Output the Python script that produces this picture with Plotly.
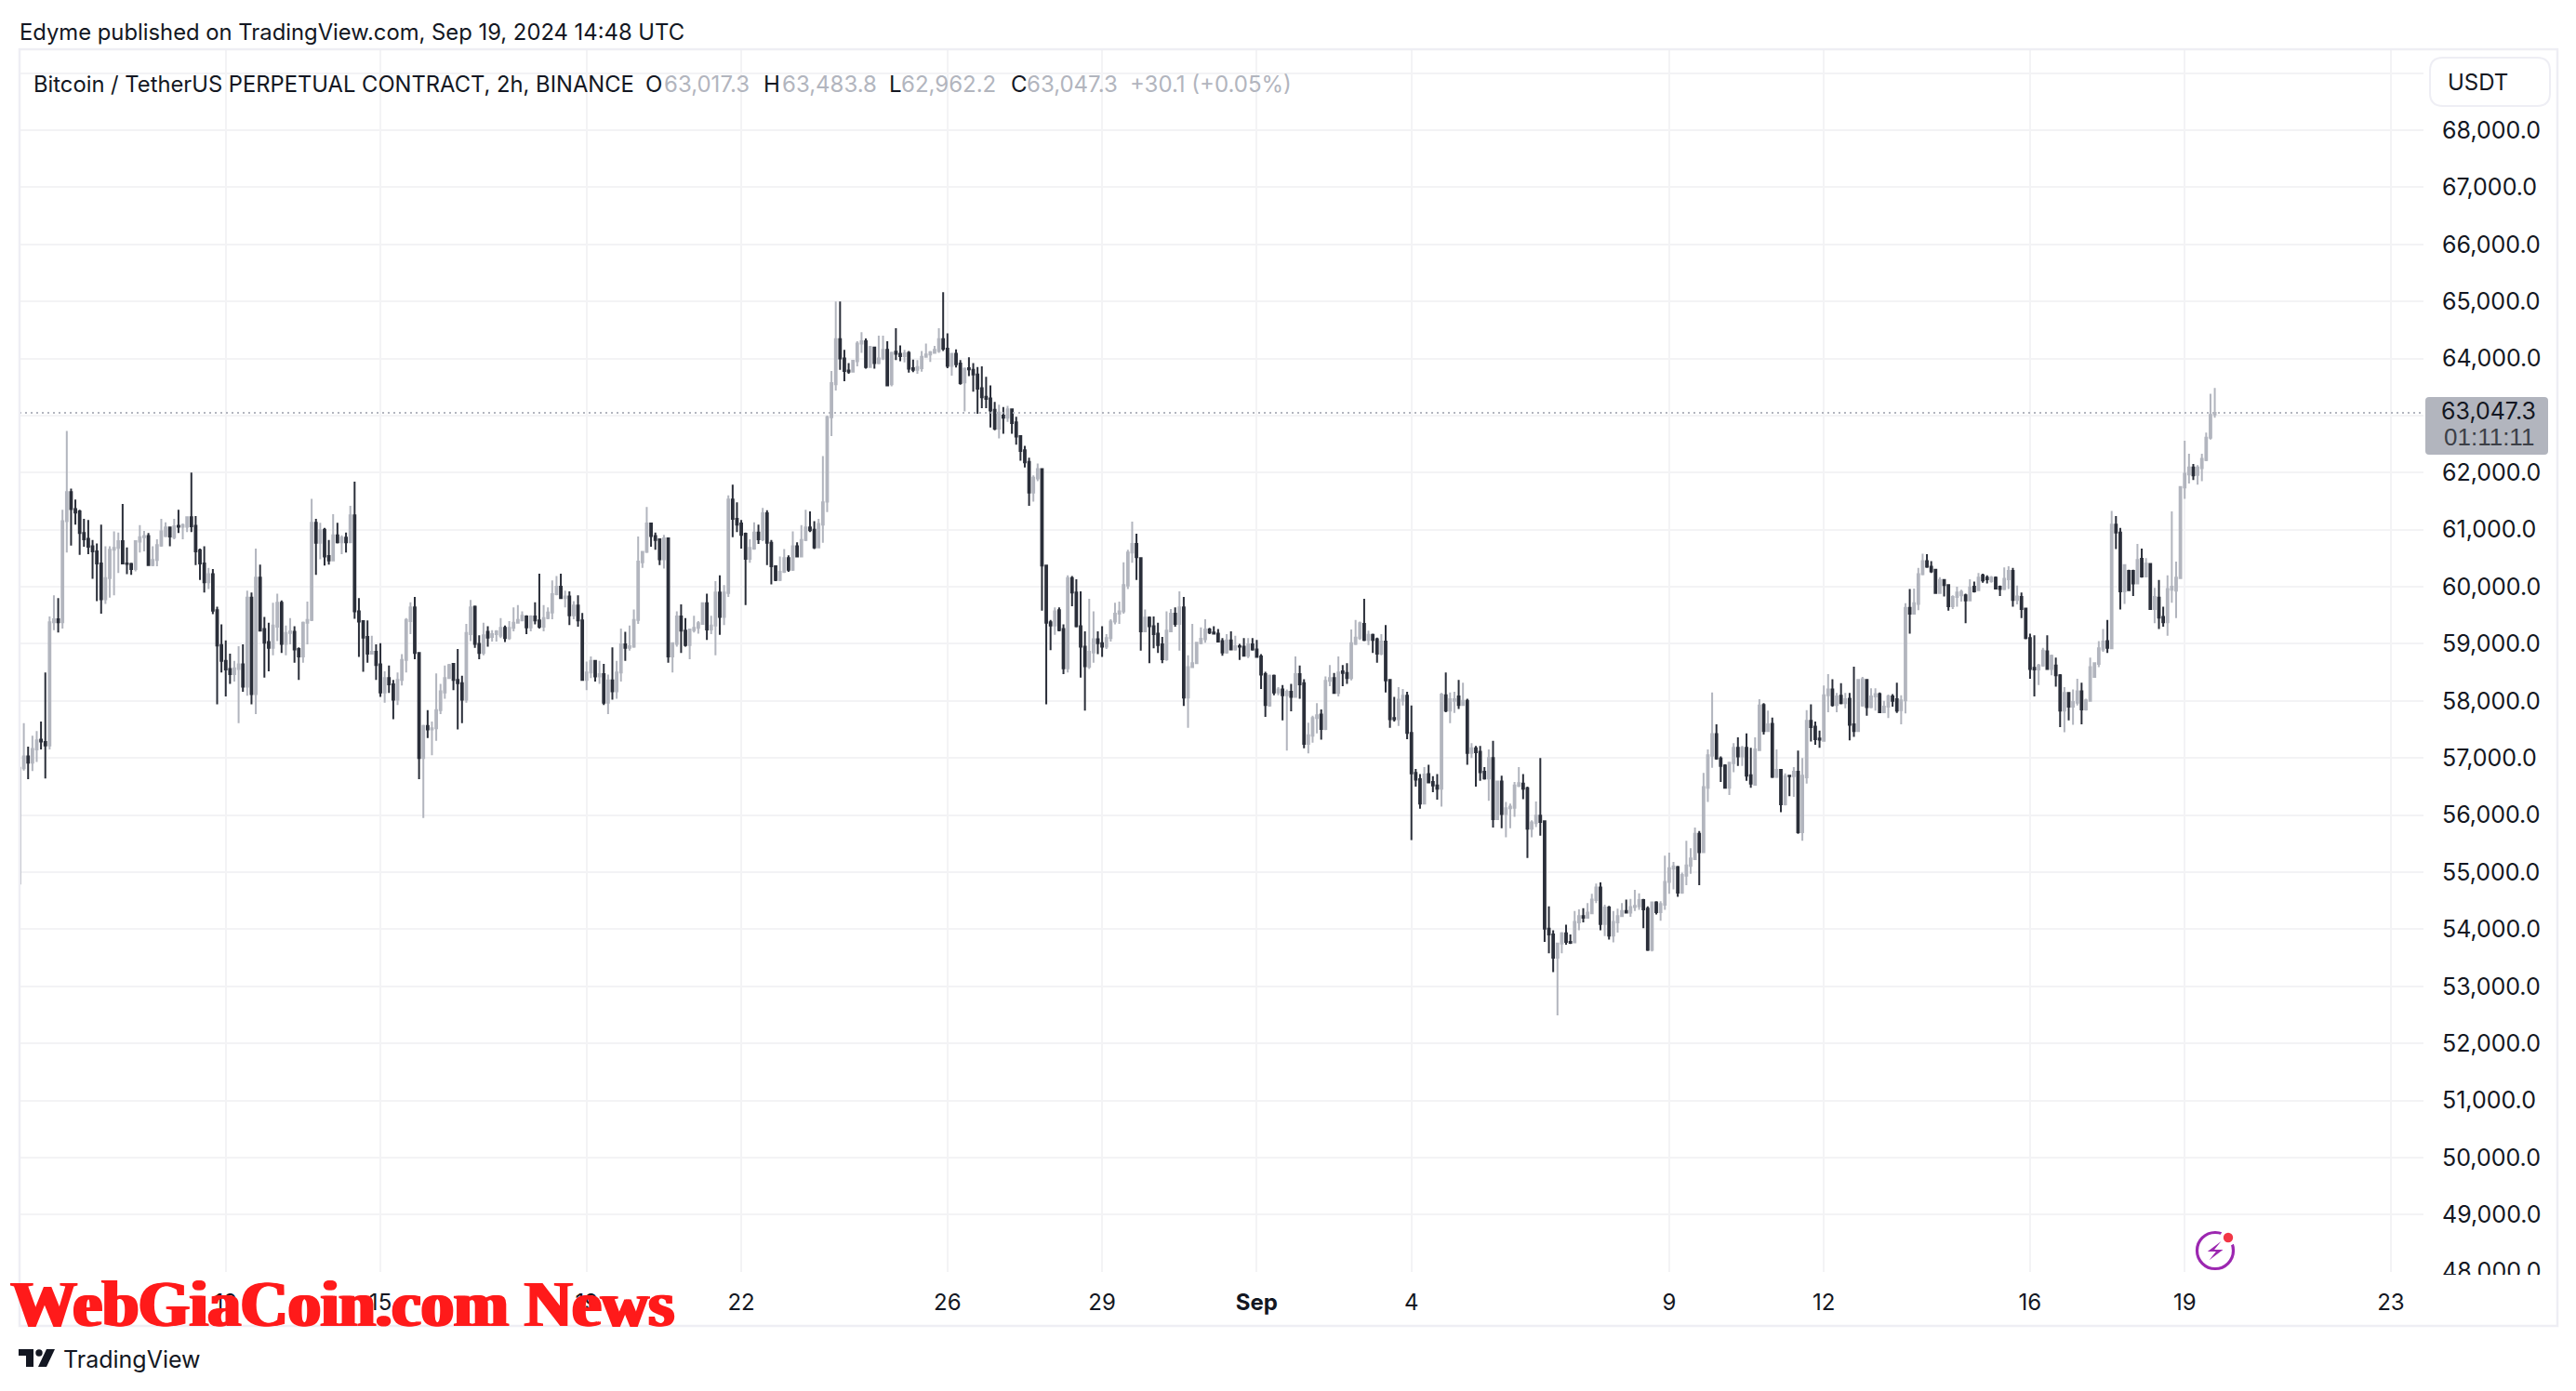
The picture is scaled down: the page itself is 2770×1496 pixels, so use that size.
import pandas as pd
import plotly.graph_objects as go

start_time = "2024-08-08 00:00"
opens = [
54800,56820,57030,56920,57150,57320,57280,57220,59380,59430,
59380,61150,61660,61360,61320,60940,60840,60710,60620,60410,
59780,60150,60650,60680,60800,60410,60400,60310,60790,60870,
60890,60380,60470,60720,60890,61040,60870,61070,61050,61050,
61220,61070,60640,60410,60080,60220,59590,58980,58700,58560,
58470,58560,58640,58250,59810,58120,60160,59260,59030,58930,
59300,59720,59000,59190,59210,58910,58780,59370,59420,61120,
60770,61000,60540,60460,60900,60780,60860,60780,61250,59570,
59400,59120,58830,58860,58640,58150,58400,58290,58020,58370,
58720,59400,59640,58840,57000,57560,57500,57520,57840,58150,
58400,58650,58370,58310,58020,59170,59650,59000,58840,59210,
59120,59170,59140,59280,59100,59280,59370,59410,59480,59290,
59480,59410,59300,59450,59550,59870,60000,59800,59830,59500,
59670,59410,58370,58500,58700,58430,58470,57970,58360,58170,
58500,58990,58930,58950,59420,60430,60610,61110,60890,60830,
60480,60850,58780,59000,59480,59230,58980,59240,59280,59350,
59710,59250,59320,59900,59470,59890,61530,61190,61110,60930,
60490,60670,60950,60830,61290,60770,60360,60120,60260,60500,
60300,60710,60530,60820,61040,61000,60690,61090,61490,62970,
63550,64340,64000,63790,63770,63950,64260,64300,63850,64190,
63920,64000,64150,63550,64120,64080,64040,64100,63830,63800,
63830,64030,64070,64100,64130,64340,64170,63870,64080,63910,
63580,63830,63800,63720,63480,63330,63300,63100,62770,63000,
62960,63110,62880,62640,62390,62190,61650,61900,62060,60370,
59380,59320,59590,59260,58570,60150,59900,59310,58950,58600,
58850,59080,59010,58950,59100,59390,59530,59570,60020,60600,
60750,60500,59220,59460,59310,59180,58990,58730,59220,59530,
59350,59640,58060,58590,58660,59010,59080,59250,59200,59180,
59050,58850,59060,58900,58960,58950,58790,58990,58900,58780,
58470,57920,58440,58150,58200,58100,58160,58070,58470,58310,
57250,57390,57700,57760,57510,58350,58400,58140,58520,58490,
58400,59000,59100,59350,59070,59160,59080,58830,59040,58370,
57700,57680,58000,58090,57440,56740,56630,56200,56720,56580,
56520,56460,58100,57830,58000,58080,57930,58000,57090,57170,
57110,56760,56640,57000,55930,56590,56020,56120,56130,56510,
56550,56470,55760,55860,55990,55890,54010,53910,53500,53750,
53930,53780,53770,54120,54230,54200,54280,54510,54730,54090,
54380,53890,54120,54230,54320,54290,54390,54400,54510,54360,
53640,54470,54300,54430,54830,55060,55090,54640,54940,55110,
55230,55670,55350,56480,57040,57420,56990,56870,56480,56910,
57180,57030,57180,56700,56530,57140,57930,57470,57600,56670,
56790,56190,56690,56680,56760,55700,56660,57650,57550,57340,
57300,58100,58200,57930,58090,57960,58040,57590,57470,57920,
58370,57890,58080,58120,57800,57900,58080,58030,57840,58010,
59630,59530,59700,60220,60450,60350,60300,59890,60120,60030,
59660,59820,59850,59850,59760,60000,59940,60200,60160,60100,
60160,60000,59960,60130,60280,59770,59820,59620,59100,58580,
58550,58620,58870,58560,58620,58450,57830,58140,57900,57970,
58170,57850,58000,58420,58650,58900,59050,58920,61090,60950,
59920,60280,60280,60060,60490,60180,60400,59610,59810,59470,
59380,59950,59930,60150,61740,61970,62090,61960,62080,62220,
62610,63017.3]
closes = [
56830,57030,56920,57160,57310,57290,57220,59380,59430,59380,
61150,61660,61360,61300,60940,60830,60700,60620,60410,59780,
60150,60650,60680,60800,60410,60400,60310,60800,60870,60890,
60380,60470,60730,60970,61040,60880,61060,61050,61080,61220,
61060,60620,60410,60080,60220,59580,58970,58700,58550,58470,
58570,58640,58250,59810,58120,60160,59230,59020,58930,59320,
59720,59000,59190,59220,58900,58780,59370,59420,61120,60770,
60990,60530,60460,60900,60780,60860,60780,61250,59570,59390,
59110,58830,58860,58630,58150,58400,58290,58020,58370,58720,
59420,59640,58840,57000,57560,57500,57520,57840,58170,58400,
58630,58370,58310,58020,59190,59640,59000,58840,59150,59110,
59170,59220,59280,59100,59280,59370,59420,59490,59290,59480,
59410,59300,59450,59550,59870,60000,59800,59830,59500,59670,
59410,58370,58500,58700,58430,58470,57970,58360,58170,58500,
58990,58930,58960,59420,60440,60610,61110,60890,60820,60480,
60850,58780,59010,59480,59230,58980,59250,59280,59360,59710,
59250,59320,59900,59470,59900,61530,61190,61090,60910,60490,
60680,60950,60830,61290,60770,60360,60120,60260,60500,60300,
60710,60530,60820,61040,60990,60690,61100,61480,62970,63570,
64340,64000,63780,63770,63960,64260,64300,63850,64200,63920,
64000,64150,63530,64100,64080,64040,64090,63820,63800,63850,
64030,64070,64110,64150,64340,64170,63870,64080,63900,63570,
63820,63810,63720,63470,63320,63290,63090,62770,63050,62960,
63110,62870,62630,62380,62180,61650,61910,62060,60370,59370,
59320,59570,59240,58570,60150,59900,59310,58950,58610,58860,
59080,59010,58950,59100,59390,59530,59570,60030,60600,60750,
60520,59220,59460,59310,59170,58980,58730,59230,59530,59350,
59640,58060,58590,58660,59020,59090,59250,59200,59180,59040,
58850,59060,58900,58960,58950,58790,58990,58900,58770,58460,
57930,58440,58150,58200,58100,58160,58070,58470,58290,57250,
57400,57700,57750,57510,58350,58400,58140,58500,58490,58400,
59010,59110,59360,59070,59160,59070,58830,59040,58360,57680,
57680,58020,58090,57440,56730,56620,56200,56710,56570,56520,
56460,58110,57830,58030,58030,57930,58000,57090,57170,57100,
56750,56640,57000,55930,56590,56020,56120,56150,56520,56560,
56460,55760,55870,55990,55880,54010,53910,53500,53750,53930,
53780,53760,54130,54230,54200,54290,54520,54730,54090,54380,
53890,54130,54230,54320,54290,54390,54410,54510,54350,53640,
54470,54300,54440,54830,55070,55100,54640,54950,55120,55240,
55670,55350,56490,57050,57420,56990,56860,56480,56920,57180,
57030,57180,56690,56550,57150,57920,57470,57590,56670,56790,
56190,56680,56680,56760,55700,56690,57650,57540,57330,57320,
58100,58200,57930,58080,57960,58030,57580,57470,58370,58380,
57890,58080,58120,57800,57900,58080,58000,57830,58010,59630,
59530,59710,60220,60450,60350,60270,59890,60120,60030,59660,
59820,59900,59910,59760,59990,59920,60160,60110,60130,60160,
59970,59960,60140,60280,59770,59830,59610,59100,58560,58550,
58620,58880,58560,58790,58450,57830,58140,57900,57980,58170,
57850,58010,58590,58660,58920,59040,58930,61090,60950,59920,
60380,59940,60060,60470,60180,60410,59610,59820,59460,59380,
59960,60000,60160,61750,61980,62090,61950,62090,62240,62610,
63010,63047.3]
highs = [
57685,57610,57200,57390,57470,57640,58500,59480,59850,59800,
61350,62730,61720,61530,61350,61190,61170,60820,60760,61090,
60710,60710,60970,60950,61450,60690,60420,60810,61080,60980,
60940,60710,60830,61190,61130,61040,61190,61350,61110,61230,
62000,61240,60670,60710,60330,60310,59650,59340,59060,58830,
58700,58960,58990,59930,59900,60670,60390,59470,59370,59720,
59880,59760,59320,59450,59310,58940,59390,59740,61540,61190,
61120,61030,60820,61270,61120,60900,60950,61420,61840,59800,
59410,59410,59140,58990,59010,58520,58620,58370,58500,58820,
59450,59730,59820,58840,57580,57840,57640,58480,58300,58620,
58650,58650,58910,58440,59350,59770,59670,59150,59370,59310,
59240,59240,59450,59320,59400,59640,59680,59570,59500,59500,
59730,60230,59680,59640,60110,60190,60230,59930,59920,59750,
59850,59540,58690,58780,58720,58700,58650,58460,58940,58700,
59270,59210,59320,59600,60880,60630,61400,61120,60950,60840,
60910,60860,59020,59570,59690,59450,59260,59490,59400,59730,
59880,59490,60100,60200,60030,61600,61790,61480,61170,60950,
60830,61130,61090,61380,61340,60820,60370,60530,60660,60550,
60970,60780,61080,61350,61320,61150,61190,62290,63000,63780,
65000,65000,64150,63920,63970,64300,64460,64350,64220,64200,
64400,64400,64300,64120,64530,64230,64150,64130,63980,63970,
64130,64260,64130,64220,64530,65160,64440,64100,64160,63970,
63840,64020,63920,63850,63860,63680,63530,63240,63190,63150,
63170,63120,62980,62650,62470,62260,61950,62160,62060,60370,
59420,59640,59640,59340,60200,60190,60130,59920,59220,59790,
59570,59220,59310,59170,59430,59720,59740,60430,60650,61140,
60930,60510,59600,59480,59480,59370,59120,59570,59610,59640,
59920,59820,58800,59350,59020,59290,59430,59280,59310,59260,
59100,59170,59220,59140,59000,59100,59100,59100,59070,58820,
58510,58460,58460,58240,58280,58200,58300,58780,58620,58380,
57620,57740,57960,57850,58430,58630,58490,58780,58630,58660,
59250,59420,59390,59790,59230,59180,59110,59170,59330,58370,
58070,58240,58210,58160,57920,56810,56720,56840,56880,56680,
56720,58140,58500,58150,58160,58370,58320,58040,57260,57210,
57210,56840,57150,57300,56600,56690,56230,56200,56580,56840,
56720,56500,55910,56240,57000,55910,54400,53980,53760,53950,
54080,53910,54320,54350,54370,54460,54620,54800,54820,54430,
54410,54320,54360,54460,54520,54530,54690,54630,54530,54400,
54480,54490,54490,55290,55340,55180,55110,54990,55550,55420,
55780,55720,56740,57150,58150,57590,57030,56890,56930,57260,
57360,57210,57430,57180,57360,58030,57960,57830,57710,57150,
56790,56730,56700,56840,57130,57000,57840,57940,57640,57480,
58270,58470,58380,58140,58310,58140,58140,58600,58380,58420,
58380,58220,58220,58150,58000,58110,58120,58320,58100,59710,
59960,59970,60330,60580,60570,60450,60310,60170,60130,60030,
59850,60000,59950,59880,60130,60090,60240,60230,60200,60190,
60180,60020,60340,60360,60330,60020,59900,59630,59180,59150,
58650,58930,59150,58810,58760,58470,58240,58140,58200,58390,
58320,58040,58760,58670,59050,59260,59420,61330,61240,61030,
60390,60300,60300,60750,60670,60500,60410,59980,60120,59650,
60200,61320,60440,61760,62560,62330,62150,62130,62330,62700,
63380,63483.8]
lows = [
54650,56780,56630,56770,56930,57150,56640,57150,59240,59200,
59270,60600,60720,61090,60560,60700,60570,60140,59750,59530,
59700,59810,59850,60240,60400,60220,60210,60270,60600,60620,
60380,60360,60360,60700,60870,60710,60830,60940,60830,60960,
60960,60380,60120,59900,59960,59520,57940,58500,58080,58300,
58340,57610,58160,58090,57940,57770,59220,58410,58520,58800,
59050,58840,58800,58990,58670,58370,58670,58990,59400,60210,
60480,60370,60390,60450,60760,60570,60600,60780,59440,58770,
58510,58670,58820,58370,58070,57970,58140,57680,57930,58270,
58500,59170,58730,56630,55950,57350,57050,57300,57770,58040,
58400,58190,57500,57610,57970,59050,58930,58730,58800,58950,
59040,59040,59100,59030,59070,59220,59370,59400,59170,59220,
59340,59270,59220,59430,59430,59850,59790,59640,59330,59430,
59300,58350,58190,58400,58340,58300,57930,57770,58020,58040,
58340,58700,58880,58930,59350,60330,60590,60700,60650,60380,
60320,58670,58500,58950,58840,58950,58730,59200,59180,59350,
59070,59170,58800,59160,59330,59820,60870,60960,60670,59680,
60420,60650,60750,60800,60380,60040,60100,60100,60240,60260,
60280,60520,60520,60800,60960,60660,60680,60770,61310,62640,
63440,63800,63600,63730,63770,63860,64100,63820,63850,63820,
63900,63970,63510,63510,63970,63950,63930,63750,63760,63730,
63770,64020,63940,64090,64100,64130,63830,63700,63840,63540,
63070,63690,63420,63030,63130,63130,62790,62740,62600,62680,
62890,62680,62490,62210,62090,61420,61490,61850,59580,57940,
58890,59160,59220,58470,58500,59660,59290,58410,57830,58560,
58670,58820,58770,58910,59040,59340,59350,59530,59960,60420,
60120,58880,59210,58660,58920,58840,58660,58700,59210,59300,
58880,57910,57530,58590,58660,58990,59020,59170,59170,59030,
58790,58830,58890,58880,58720,58780,58750,58880,58760,58210,
57720,57900,58100,58100,57660,57130,57820,58070,58040,57170,
57080,57270,57430,57320,57490,58260,58130,58080,58260,58300,
58360,58980,59070,59050,58980,58840,58670,58800,58150,57530,
57640,57560,57920,57330,55560,56500,56110,56200,56560,56400,
56270,56150,57800,57610,57790,57860,57920,56880,57000,56500,
56600,56620,56250,55780,55920,55770,55610,55770,55970,56490,
56280,55250,55610,55790,55640,53780,53580,53250,52490,53580,
53730,53740,53770,53980,54120,54190,54280,54460,53980,53880,
53820,53770,53940,54230,54290,54220,54320,54340,54020,53620,
53610,54260,54150,54340,54620,54700,54570,54620,54770,54970,
55230,54770,55340,56230,56830,56970,56580,56480,56350,56750,
56860,56860,56600,56480,56530,57130,57410,57470,56650,56650,
56050,56170,56330,56320,55670,55550,56550,57290,57230,57180,
57290,57800,57900,57800,57940,57870,57310,57370,57470,57900,
57740,57870,57830,57800,57790,57700,57900,57790,57590,57780,
59180,59530,59590,60200,60330,60240,59880,59880,59830,59580,
59610,59650,59740,59360,59750,59900,59930,60070,60060,60070,
59960,59840,59940,59960,59650,59690,59450,59080,58390,58080,
58280,58600,58550,58450,58250,57540,57450,57660,57580,57920,
57590,57830,57990,58420,58590,58860,58840,58910,60660,59600,
59700,59940,59840,60060,60160,60170,59610,59360,59260,59300,
59140,59720,59450,60150,61540,61810,61870,61790,61850,62200,
62580,62962.2]

price_ticks = [p * 1000 for p in range(48, 70)]
price_tick_labels = [f"{p:,.1f}" if p < 69000 else "" for p in price_ticks]
date_ticks = ["2024-08-12", "2024-08-15", "2024-08-19", "2024-08-22", "2024-08-26", "2024-08-29",
              "2024-09-01", "2024-09-04", "2024-09-09", "2024-09-12", "2024-09-16", "2024-09-19", "2024-09-23"]
date_tick_labels = ["12", "15", "19", "22", "26", "29", "<b>Sep</b>", "4", "9", "12", "16", "19", "23"]
last_price = 63047.3
legend_parts = [("O", "63,017.3"), ("H", "63,483.8"), ("L", "62,962.2"), ("C", "63,047.3")]

W, H = 2770, 1496
L, R, T, B = 21, 2606, 53, 1368
UP, DOWN = "#b2b5be", "#2a2e39"
INK, GRID, FRAME = "#131722", "#f3f3f5", "#eeeef4"
FONT = "Inter"


def px(x):
    return (x - L) / (R - L)


def py(y):
    return 1 - (y - T) / (B - T)


def poly(points, fill, line_color=None, width=0):
    d = "M " + " L ".join(f"{px(x):.5f},{py(y):.5f}" for x, y in points) + " Z"
    return dict(type="path", xref="paper", yref="paper", path=d, fillcolor=fill,
                line=dict(color=line_color or fill, width=width), layer="above")


def circle(cx, cy, r, fill="rgba(0,0,0,0)", line_color=None, width=0):
    return dict(type="circle", xref="paper", yref="paper", x0=px(cx - r), x1=px(cx + r),
                y0=py(cy + r), y1=py(cy - r), fillcolor=fill,
                line=dict(color=line_color or "rgba(0,0,0,0)", width=width), layer="above")


def rect(x0, y0, x1, y1, fill="rgba(0,0,0,0)", line_color=None, width=0):
    return dict(type="rect", xref="paper", yref="paper", x0=px(x0), x1=px(x1), y0=py(y1), y1=py(y0),
                fillcolor=fill, line=dict(color=line_color or "rgba(0,0,0,0)", width=width), layer="above")


def rounded(x0, y0, x1, y1, r, fill, line_color, width):
    pts = [(x0 + r, y0), (x1 - r, y0), ("Q", x1, y0, x1, y0 + r), (x1, y1 - r), ("Q", x1, y1, x1 - r, y1),
           (x0 + r, y1), ("Q", x0, y1, x0, y1 - r), (x0, y0 + r), ("Q", x0, y0, x0 + r, y0)]
    d = f"M {px(pts[0][0]):.5f},{py(pts[0][1]):.5f}"
    for p in pts[1:]:
        if p[0] == "Q":
            d += f" Q {px(p[1]):.5f},{py(p[2]):.5f} {px(p[3]):.5f},{py(p[4]):.5f}"
        else:
            d += f" L {px(p[0]):.5f},{py(p[1]):.5f}"
    return dict(type="path", xref="paper", yref="paper", path=d + " Z", fillcolor=fill,
                line=dict(color=line_color, width=width), layer="above")


def label(x, y, text, size=24, color=INK, xanchor="left", family=FONT, **kw):
    return dict(xref="paper", yref="paper", x=px(x), y=py(y), text=text, showarrow=False,
                xanchor=xanchor, yanchor="middle", borderpad=0,
                font=dict(family=family, size=size, color=color, **kw))


times = pd.date_range(start_time, periods=len(opens), freq="2h")

fig = go.Figure(go.Candlestick(
    x=times, open=opens, high=highs, low=lows, close=closes,
    increasing=dict(line=dict(color=UP, width=2), fillcolor=UP),
    decreasing=dict(line=dict(color=DOWN, width=2), fillcolor=DOWN),
    whiskerwidth=0, showlegend=False, hoverinfo="skip",
))

shapes = [
    dict(type="line", xref="paper", yref="y", x0=0, x1=px(2603), y0=last_price, y1=last_price,
         line=dict(color=UP, width=2, dash="2px,4px"), layer="above"),
    rect(2607, 1371, 2745, 1395, fill="white"),
    rect(21, 53, 2750, 1426, line_color=FRAME, width=2.5),
    rounded(2613, 62, 2742, 114, 14, "white", FRAME, 2),
    rounded(2608, 427, 2740, 489, 4, UP, UP, 0),
    circle(2382, 1345, 19.5, line_color="#9c27b0", width=3.2),
    circle(2396, 1331, 9, fill="white"),
    circle(2396, 1331, 5.2, fill="#f23645"),
    poly([(2388.4, 1335), (2373.8, 1346), (2382.9, 1346), (2375.6, 1355.3), (2390.5, 1344), (2381.1, 1344)], "#9c27b0"),
    poly([(20, 1451), (36, 1451), (36, 1470), (28, 1470), (28, 1458), (20, 1458)], INK),
    circle(42, 1455, 3.7, fill=INK),
    poly([(50, 1451), (59, 1451), (50, 1470), (41, 1470)], INK),
]

annotations = [
    label(19.5, 35, "Edyme published on TradingView.com, Sep 19, 2024 14:48 UTC", size=23.8),
    label(35, 90, "Bitcoin / TetherUS PERPETUAL CONTRACT, 2h, BINANCE", size=23.75),
    label(693, 90, legend_parts[0][0], size=24),
    label(713, 90, legend_parts[0][1], size=24, color=UP),
    label(820, 90, legend_parts[1][0], size=24),
    label(840, 90, legend_parts[1][1], size=24, color=UP),
    label(955, 90, legend_parts[2][0], size=24),
    label(968, 90, legend_parts[2][1], size=24, color=UP),
    label(1086, 90, legend_parts[3][0], size=24),
    label(1103, 90, legend_parts[3][1], size=24, color=UP),
    label(1214, 90, "+30.1 (+0.05%)", size=24, color=UP),
    label(2631, 88.5, "USDT", size=24),
    label(2676, 442, "63,047.3", size=25, xanchor="center"),
    label(2676, 470, "01:11:11", size=26, color="#3c3f47", xanchor="center", family="Liberation Sans"),
    label(67, 1461.5, "TradingView", size=25),
    label(11, 1402, "WebGiaCoin.com News", size=70.5, color="#ff1a1a", family="Liberation Serif",
          weight="bold", shadow="2px 0 0 #ff1a1a, -2px 0 0 #ff1a1a"),
]

fig.update_layout(
    width=W, height=H, autosize=False,
    margin=dict(l=L, r=W - R, t=T, b=H - B, autoexpand=False),
    paper_bgcolor="white", plot_bgcolor="white",
    boxgap=0.45,
    font=dict(family=FONT, size=24, color=INK),
    shapes=shapes, annotations=annotations, showlegend=False,
    xaxis=dict(
        type="date", range=["2024-08-08 00:00", "2024-09-23 15:10"],
        rangeslider=dict(visible=False),
        tickmode="array", tickvals=date_ticks, ticktext=date_tick_labels,
        showgrid=True, gridcolor=GRID, gridwidth=2, zeroline=False, showline=False,
        ticks="outside", ticklen=11, tickcolor="rgba(0,0,0,0)",
        tickfont=dict(family=FONT, size=24, color=INK),
    ),
    yaxis=dict(
        side="right", range=[47995, 69417],
        tickmode="array", tickvals=price_ticks, ticktext=price_tick_labels,
        showgrid=True, gridcolor=GRID, gridwidth=2, zeroline=False, showline=False,
        ticks="outside", ticklen=14, tickcolor="rgba(0,0,0,0)",
        tickfont=dict(family=FONT, size=25, color=INK),
    ),
)

fig.write_html("out.html", config=dict(displayModeBar=False),
               post_script="document.body.style.margin='0';")
